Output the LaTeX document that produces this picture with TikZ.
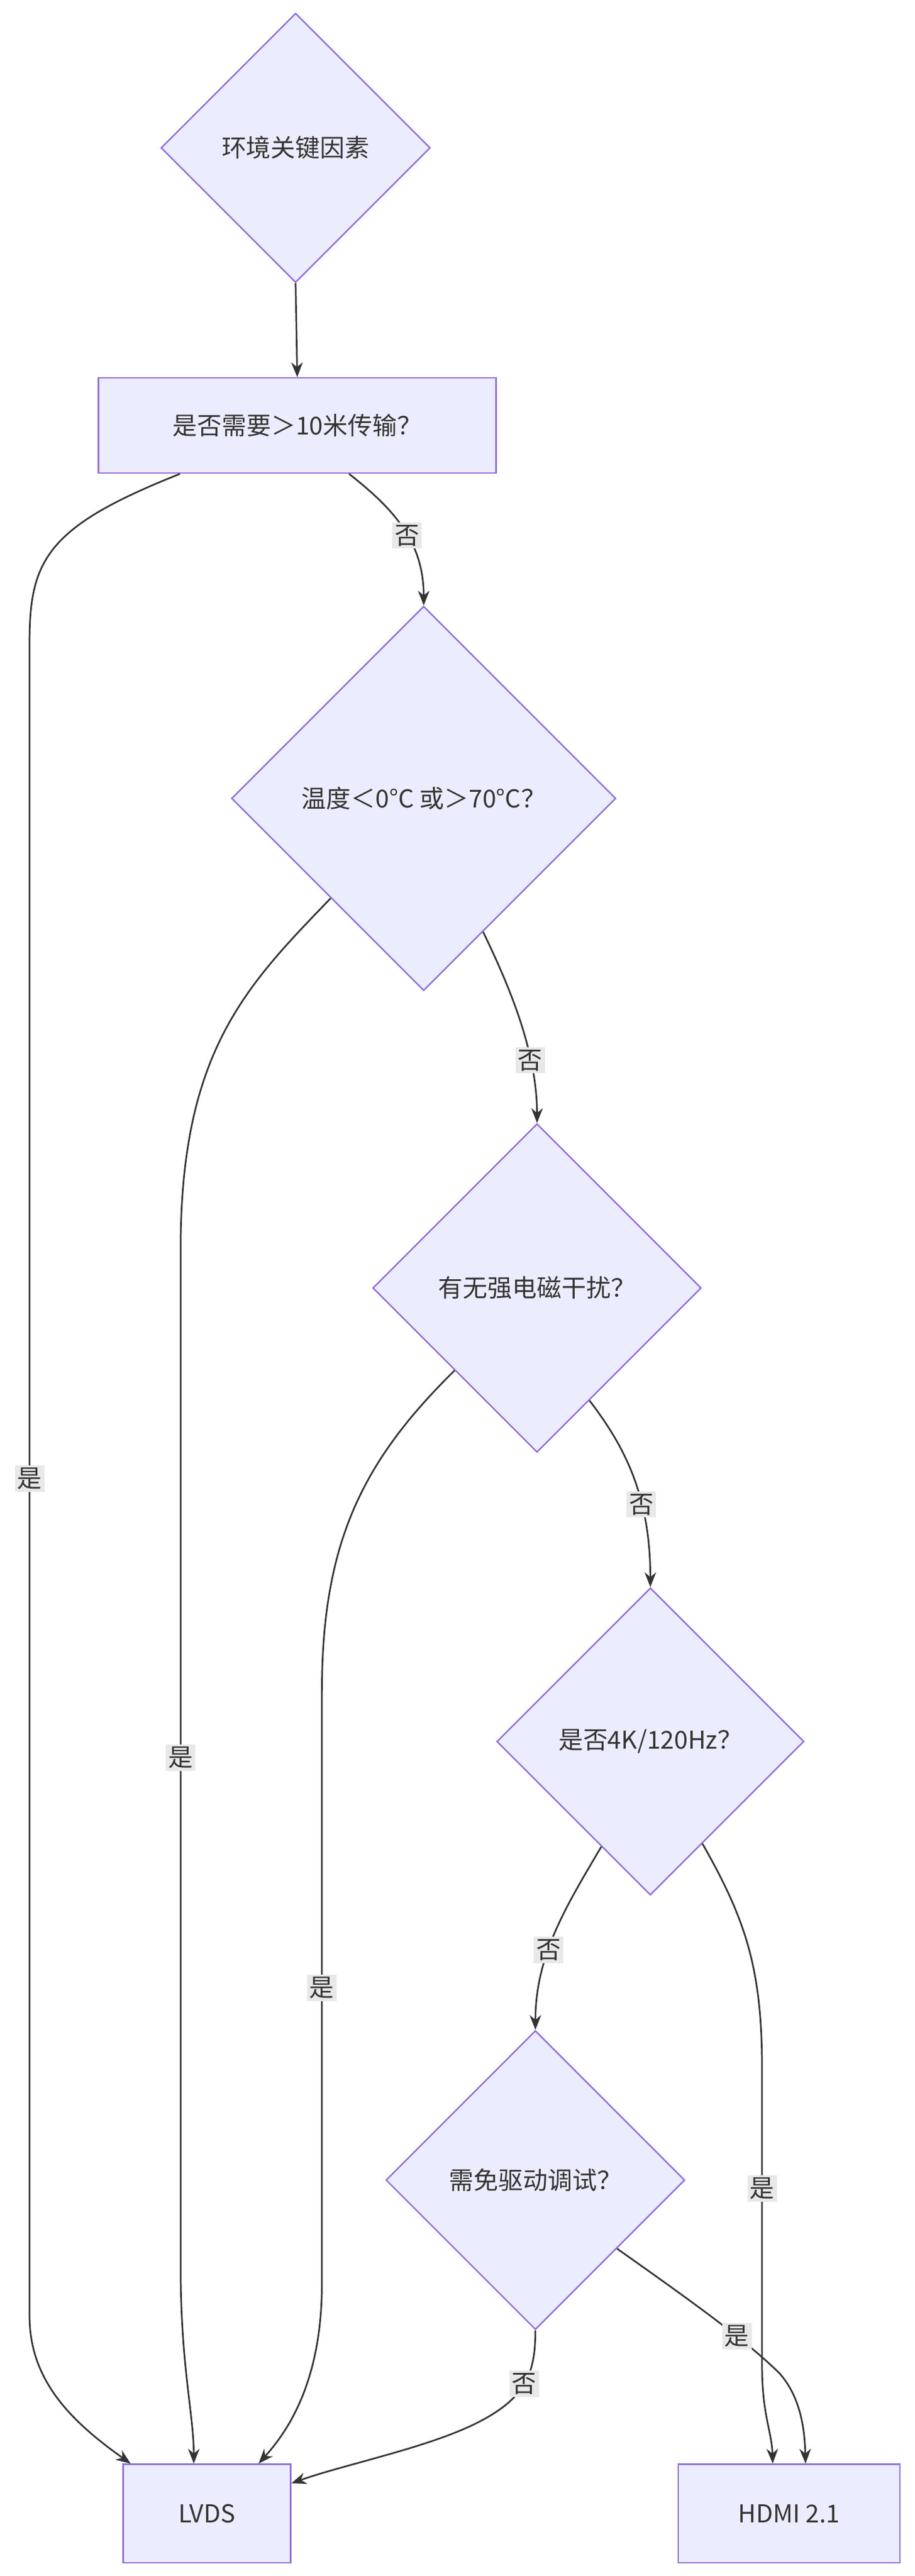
\documentclass[tikz,border=0pt]{standalone}
\usepackage{fontspec}
\setmainfont{Noto Sans CJK SC}
\usetikzlibrary{shapes.geometric,calc,arrows.meta}
\definecolor{nfill}{HTML}{ECECFF}
\definecolor{nline}{HTML}{9370DB}
\definecolor{eline}{HTML}{333333}
\definecolor{lbg}{HTML}{E8E8E8}
\tikzset{
  box/.style={draw=nline,fill=nfill,line width=0.9pt,inner sep=0pt,font=\fontsize{15}{18}\selectfont,text=eline},
  dia/.style={box,diamond},
  edge/.style={draw=eline,line width=1pt,-{Stealth[length=9pt,width=7pt]}},
  lab/.style={fill=lbg,inner sep=1.5pt,font=\fontsize{15}{18}\selectfont,text=eline}
}
\begin{document}
\begin{tikzpicture}[x=1pt,y=-1pt]
\useasboundingbox (0,0) rectangle (557,1568);
\node[dia,minimum width=164,minimum height=164] (d1) at (180,90) {环境关键因素};
\node[box,minimum width=242,minimum height=58] (b1) at (181,259) {是否需要＞10米传输？};
\node[dia,minimum width=234,minimum height=234] (d2) at (258,486) {温度＜0°C 或＞70°C？};
\node[dia,minimum width=200,minimum height=200] (d3) at (327,784) {有无强电磁干扰？};
\node[dia,minimum width=187,minimum height=187] (d4) at (396,1060) {是否4K/120Hz？};
\node[dia,minimum width=182,minimum height=182] (d5) at (326,1327) {需免驱动调试？};
\node[box,minimum width=102,minimum height=60] (lv) at (126,1530) {LVDS};
\node[box,minimum width=135,minimum height=60] (hd) at (480.5,1530) {HDMI 2.1};

\draw[edge] (d1.south) -- (b1.north);
\draw[edge] ($(b1.south west)+(50,0)$) .. controls (30,320) and (18,340) .. (18,390)
  -- node[lab,pos=0.5]{是} (18,1410) .. controls (18,1450) and (45,1475) .. ($(lv.north west)+(5,0)$);
\draw[edge] ($(b1.south west)+(153,0)$) .. controls (240,310) and (258,330) .. node[lab,pos=0.55]{否} (d2.north);
\draw[edge] (d2.-133) .. controls (150,600) and (110,640) .. (110,760)
  -- node[lab,pos=0.5]{是} (110,1380) .. controls (110,1440) and (118,1470) .. ($(lv.north)+(-8,0)$);
\draw[edge] (d2.-66) .. controls (310,600) and (327,640) .. node[lab,pos=0.7]{否} (d3.north);
\draw[edge] (d3.-135) .. controls (220,890) and (196,940) .. (196,1030)
  -- node[lab,pos=0.5]{是} (196,1390) .. controls (196,1450) and (175,1480) .. ($(lv.north east)+(-20,0)$);
\draw[edge] (d3.-65) .. controls (380,880) and (396,910) .. node[lab,pos=0.65]{否} (d4.north);
\draw[edge] (d4.-115) .. controls (345,1160) and (326,1190) .. node[lab,pos=0.6]{否} (d5.north);
\draw[edge] (d4.-63) .. controls (455,1170) and (464,1200) .. (464,1260)
  -- node[lab,pos=0.4]{是} (464,1440) .. controls (464,1470) and (470,1480) .. ($(hd.north)+(-10,0)$);
\draw[edge] (d5.-40) .. controls (420,1400) and (455,1425) .. node[lab,pos=0.65]{是} (475,1445)
  .. controls (488,1460) and (490,1480) .. ($(hd.north)+(10,0)$);
\draw[edge] (d5.south) .. controls (326,1445) and (320,1460) .. node[lab,pos=0.5]{否} (290,1475)
  .. controls (260,1490) and (210,1500) .. ($(lv.north east)+(0,12)$);
\end{tikzpicture}
\end{document}
